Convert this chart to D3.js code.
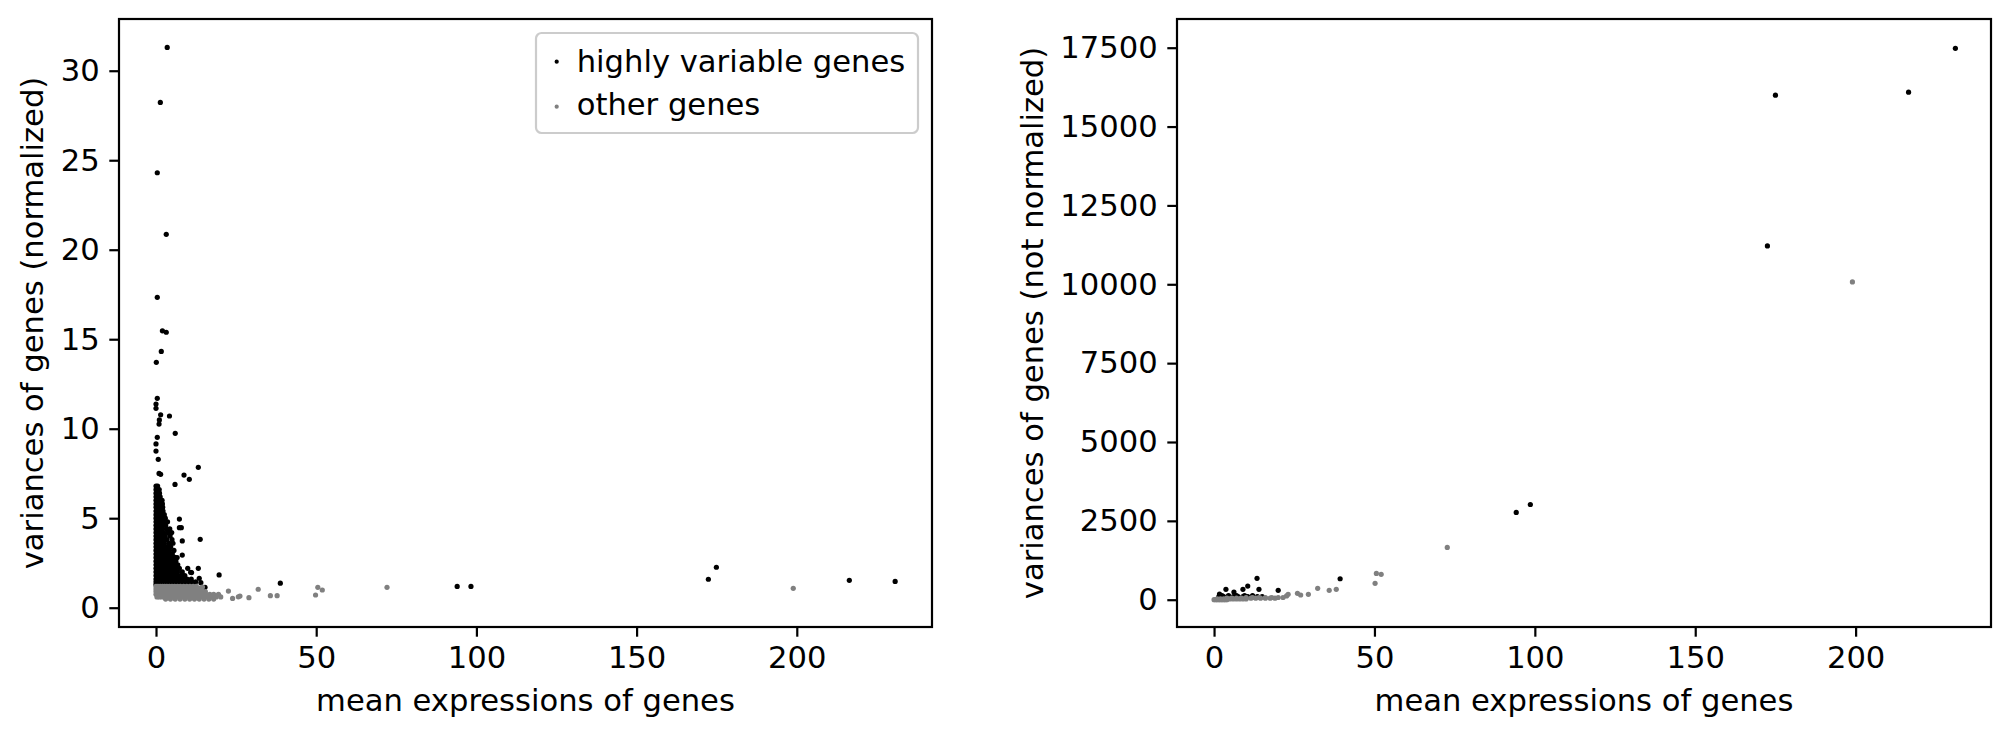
<!DOCTYPE html>
<html>
<head>
<meta charset="utf-8">
<script src="https://cdn.jsdelivr.net/npm/d3@7"></script>
<style>
  html, body { margin: 0; padding: 0; background: #fff; }
  svg { display: block; }
  text { font-family: "DejaVu Sans", sans-serif; }
</style>
</head>
<body>
<svg id="chart" width="2010" height="736"></svg>
<script>
// ---------------- DATA ----------------
const seriesNames = ["highly variable genes", "other genes"];
const xTicks = [0, 50, 100, 150, 200];
const yTicksNorm = [0, 5, 10, 15, 20, 25, 30];
const yTicksRaw = [0, 2500, 5000, 7500, 10000, 12500, 15000, 17500];
const xLabel = "mean expressions of genes";
const yLabelNorm = "variances of genes (normalized)";
const yLabelRaw = "variances of genes (not normalized)";

// Left panel: highly variable genes, isolated points [mean, normalized variance]
const hvgNormPoints = [
  [3.5,31.3],[1.35,28.23],[0.4,24.3],[3.2,20.86],[0.4,17.34],[2.0,15.47],[3.2,15.39],
  [1.65,14.32],[0.1,13.71],[0.4,11.7],[0,11.38],[0,11.14],[1.45,10.78],[4.2,10.71],
  [1.05,10.49],[0.95,10.26],[6.0,9.74],[0.4,9.52],[0,9.15],[0,8.75],[0.7,8.29],
  [13.2,7.84],[0.95,7.5],[1.45,7.45],[8.74,7.41],[10.4,7.17],[5.93,6.89],
  [7.3,4.95],[7.3,4.47],[7.9,4.47],[13.8,3.82],[8.2,3.73],[8.2,2.94],[5.9,2.81],
  [9.9,2.2],[11.1,1.96],[10.8,1.98],[13.2,2.2],[13.5,1.64],[19.7,1.83],[14.0,1.40],
  [15.3,1.14],[38.8,1.37],[94.0,1.19],[98.3,1.19],[172.4,1.59],[174.9,2.26],
  [216.4,1.53],[230.7,1.47]
];
// Left panel: dense cluster of highly variable genes, rows of [normalized variance, [means]]
const hvgNormDense = [
  [6.8,[0,0.5]],
  [6.6,[0,0.6,1.0]],
  [6.4,[0,0.5,1.1]],
  [6.2,[0,0.6,1.3]],
  [6.0,[0,0.6,1.2,1.9]],
  [5.8,[0,0.7,1.4,2.0]],
  [5.6,[0,0.6,1.3,2.1]],
  [5.4,[0,0.7,1.4,2.2]],
  [5.2,[0,0.6,1.3,2.0,2.6]],
  [5.0,[0,0.7,1.4,2.1,2.9]],
  [4.8,[0,0.6,1.3,2.0,2.7,3.6]],
  [4.6,[0,0.7,1.4,2.2,3.0]],
  [4.4,[0,0.6,1.3,2.0,3.3,4.3]],
  [4.2,[0,0.7,1.5,2.4,3.8,4.9]],
  [4.0,[0,0.6,1.3,2.1,2.9,4.4]],
  [3.8,[0,0.7,1.4,2.2,3.4,5.0]],
  [3.6,[0,0.6,1.3,2.0,2.6,4.0,5.3]],
  [3.4,[0,0.7,1.4,2.1,2.9,3.6,4.6]],
  [3.2,[0,0.6,1.3,2.0,2.7,3.4,4.2,5.6]],
  [3.0,[0,0.7,1.4,2.1,2.8,3.6,4.4,5.1]],
  [2.8,[0,0.6,1.3,2.0,2.7,3.4,4.1,4.9,6.6]],
  [2.6,[0,0.7,1.4,2.1,2.8,3.5,4.3,5.2,6.2]],
  [2.4,[0,0.6,1.3,2.0,2.7,3.4,4.2,5.0,5.8,6.8]],
  [2.2,[0,0.7,1.4,2.1,2.8,3.5,4.3,5.1,6.0,7.3]],
  [2.0,[0,0.6,1.3,2.0,2.7,3.4,4.2,5.0,5.8,6.7,8.2]],
  [1.8,[0,0.7,1.4,2.1,2.8,3.5,4.3,5.1,6.0,6.9,7.8,9.0]],
  [1.6,[0,0.6,1.3,2.0,2.7,3.4,4.2,5.0,5.8,6.7,7.6,8.6,9.7,11.0]],
  [1.45,[0,0.7,1.4,2.1,2.8,3.5,4.3,5.1,6.0,6.9,7.8,8.8,9.9,11.2,12.4]],
  [1.3,[0,0.6,1.3,2.0,2.7,3.4,4.2,5.0,5.8,6.7,7.6,8.6,9.6,10.7,12.0]]
];
// Left panel: other genes, isolated points
const otherNormPoints = [
  [22.6,0.93],[23.9,0.52],[25.7,0.61],[26.2,0.65],[29.0,0.56],[31.9,1.03],[35.7,0.67],
  [37.8,0.67],[49.8,0.71],[50.5,1.14],[51.9,0.99],[72.1,1.14],[198.9,1.08],[14.5,1.15],[13.8,1.1]
];
// Left panel: dense band of other genes
const otherNormDense = [
  [1.2,[0,0.6,1.3,2.0,2.7,3.4,4.2,5.0,5.8,6.7,7.6,8.6,9.6,10.6,11.6,12.6]],
  [1.05,[0,0.7,1.4,2.1,2.8,3.5,4.3,5.1,6.0,6.9,7.8,8.8,9.8,10.9,12.0,13.2,14.0]],
  [0.9,[0,0.6,1.3,2.0,2.7,3.4,4.2,5.0,5.8,6.7,7.6,8.6,9.6,10.7,11.8,13.0,14.2,15.4]],
  [0.75,[0,0.7,1.4,2.1,2.8,3.5,4.3,5.1,6.0,6.9,7.8,8.8,9.8,10.9,12.0,13.2,14.4,15.6,16.8,18.0,19.5]],
  [0.6,[0.3,1.0,1.8,2.6,3.5,4.4,5.3,6.2,7.2,8.2,9.2,10.3,11.4,12.5,13.7,15.0,16.2,17.5,18.8,20.2]],
  [0.48,[3.0,4.5,6.0,7.5,9.0,10.5,12.0,13.5,15.0,16.5,18.0]]
];

// Right panel: highly variable genes [mean, raw variance]
const hvgRawPoints = [
  [231.1,17481],[175.0,15994],[216.5,16089],[172.5,11215],[94.2,2766],[98.6,3019],
  [39.3,665],[13.4,677],[10.5,434],[9.0,329],[14.0,329],[3.7,329],[1.7,180],[6.2,244],[20.0,297]
];
const hvgRawDense = [
  [130,[2.5,4.5,7.0,9.5,12.0]],
  [100,[1.5,3.0,4.5,6.0,7.5,9.0,10.5,12.0,13.5,15.0]]
];
// Right panel: other genes
const otherRawPoints = [
  [199.0,10076],[72.7,1658],[50.6,835],[52.1,804],[50.2,519],[32.3,360],[35.9,297],
  [38.1,329],[29.4,171],[23.1,171],[26.0,203],[27.0,149],[22.6,120]
];
const otherRawDense = [
  [70,[10,12,14,16,18,20,21.5]],
  [50,[4,5.5,7,8.5,10,11.5,13,14.5,16,17.5,19]],
  [25,[1,2,3,4,5,6,7,8,9,10]],
  [0,[0,0.5,1.0,1.5,2.0,2.5,3.0,3.5,4.0]]
];

const colors = ["#000000", "#808080"];

// ---------------- DRAW ----------------
const svg = d3.select("#chart");
const FS = 30.6;
const TICK = 9.7;
const LW = 2.2;

function expand(points, dense) {
  const out = points.map(d => ({x: d[0], y: d[1]}));
  dense.forEach(([y, xs]) => xs.forEach(x => out.push({x, y})));
  return out;
}

function panel(opts) {
  const {left, top, width, height, xDomain, yDomain, yTicks, yLabel, yLabelX, hvg, other, legend} = opts;
  const g = svg.append("g");
  const x = d3.scaleLinear().domain(xDomain).range([left, left + width]);
  const y = d3.scaleLinear().domain(yDomain).range([top + height, top]);

  // points: black first, grey on top
  g.append("g").selectAll("circle").data(hvg).join("circle")
    .attr("cx", d => x(d.x)).attr("cy", d => y(d.y)).attr("r", 2.6).attr("fill", colors[0]);
  g.append("g").selectAll("circle").data(other).join("circle")
    .attr("cx", d => x(d.x)).attr("cy", d => y(d.y)).attr("r", 2.6).attr("fill", colors[1]);

  // axes
  const xa = g.append("g").attr("transform", `translate(0,${top + height})`)
    .call(d3.axisBottom(x).tickValues(xTicks).tickSize(TICK).tickSizeOuter(0).tickPadding(TICK).tickFormat(d3.format("d")));
  const ya = g.append("g").attr("transform", `translate(${left},0)`)
    .call(d3.axisLeft(y).tickValues(yTicks).tickSize(TICK).tickSizeOuter(0).tickPadding(TICK).tickFormat(d3.format("d")));
  [xa, ya].forEach(a => {
    a.select(".domain").remove();
    a.selectAll(".tick line").attr("stroke", "#000").attr("stroke-width", LW);
    a.selectAll(".tick text").attr("fill", "#000").style("font-size", FS + "px")
      .style("font-family", "DejaVu Sans, sans-serif");
  });

  // frame
  g.append("rect").attr("x", left).attr("y", top).attr("width", width).attr("height", height)
    .attr("fill", "none").attr("stroke", "#000").attr("stroke-width", LW);

  // labels
  g.append("text").attr("x", left + width / 2).attr("y", 711).attr("text-anchor", "middle")
    .style("font-size", FS + "px").attr("fill", "#000").text(xLabel);
  g.append("text").attr("transform", `translate(${yLabelX},${top + height / 2}) rotate(-90)`)
    .attr("text-anchor", "middle").style("font-size", FS + "px").attr("fill", "#000").text(yLabel);

  if (legend) {
    const lx = left + width - 14 - 382, ly = top + 14;
    const lg = g.append("g");
    lg.append("rect").attr("x", lx).attr("y", ly).attr("width", 382).attr("height", 100)
      .attr("rx", 5.6).attr("fill", "#fff").attr("fill-opacity", 0.8)
      .attr("stroke", "#cccccc").attr("stroke-width", 2.2);
    const rows = [{dy: 28.7, base: 38.5}, {dy: 73.7, base: 81.5}];
    seriesNames.forEach((name, i) => {
      lg.append("circle").attr("cx", lx + 20.7).attr("cy", ly + rows[i].dy).attr("r", 2.1).attr("fill", colors[i]);
      lg.append("text").attr("x", lx + 40.7).attr("y", ly + rows[i].base)
        .style("font-size", FS + "px").attr("fill", "#000").text(name);
    });
  }
}

const xDomain = [-11.55, 242.2];

panel({
  left: 119, top: 19, width: 813, height: 608,
  xDomain, yDomain: [-1.078, 32.89], yTicks: yTicksNorm,
  yLabel: yLabelNorm, yLabelX: 43,
  hvg: expand(hvgNormPoints, hvgNormDense),
  other: expand(otherNormPoints, otherNormDense),
  legend: true
});

panel({
  left: 1177, top: 19, width: 814, height: 608,
  xDomain, yDomain: [-865, 18410], yTicks: yTicksRaw,
  yLabel: yLabelRaw, yLabelX: 1043,
  hvg: expand(hvgRawPoints, hvgRawDense),
  other: expand(otherRawPoints, otherRawDense),
  legend: false
});
</script>
</body>
</html>
